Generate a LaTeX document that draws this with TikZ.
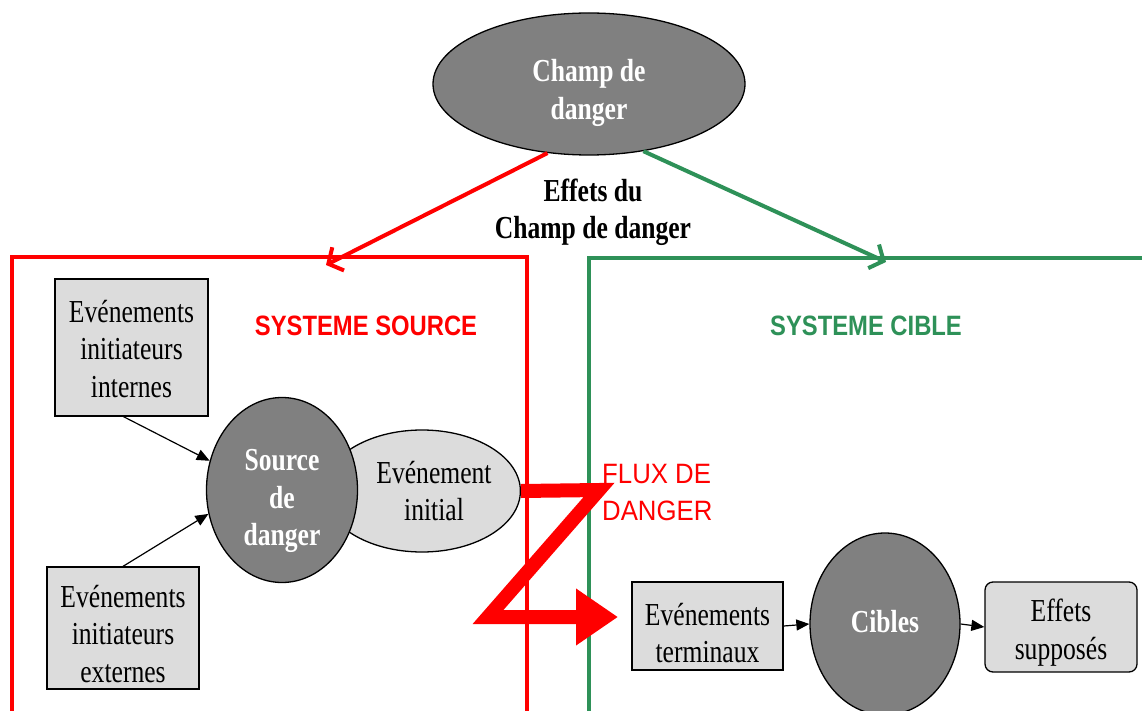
\documentclass[tikz,border=0pt]{standalone}
\usepackage{fontspec}
\setmainfont{Liberation Serif}[FakeStretch=0.8]
\setsansfont{Liberation Sans}[FakeStretch=0.82]
\newfontfamily\titlefont{Liberation Sans}[FakeStretch=0.85]
\newfontfamily\fluxfont{Liberation Sans}[FakeStretch=0.92]
\usetikzlibrary{shapes.geometric,arrows.meta}
\definecolor{srcred}{HTML}{FF0000}
\definecolor{tgtgreen}{HTML}{2E9158}
\definecolor{lightfill}{HTML}{DCDCDC}
\definecolor{darkfill}{HTML}{808080}
\newcommand{\topstrut}[1]{\rule{0pt}{#1}}
\newcommand{\botstrut}[1]{\rule[-#1]{0pt}{0pt}}
\tikzset{
  bigtxt/.style={font=\fontsize{32}{37.5}\selectfont},
  lbox/.style={rectangle, draw=black, line width=1.3pt, fill=lightfill, inner sep=0pt, align=center, bigtxt},
  lell/.style={ellipse, draw=black, line width=1.3pt, fill=lightfill, inner sep=0pt, align=center, bigtxt},
  dark/.style={ellipse, draw=black, line width=1.3pt, fill=darkfill, text=white, inner sep=0pt, align=center, font=\bfseries\fontsize{32}{37.5}\selectfont},
  systitle/.style={inner sep=0pt, font=\titlefont\bfseries\fontsize{28}{34}\selectfont},
  sysbox/.style={line width=4pt},
  effarrow/.style={line width=4pt, -{Straight Barb[length=11pt,width=26pt]}},
  smallarrow/.style={line width=1.2pt, black, -{Triangle[length=13pt,width=11pt]}},
  flux/.style={srcred, line width=14pt, line join=miter, -{Triangle[length=42pt,width=54pt]}}
}
\begin{document}
\begin{tikzpicture}[x=1pt,y=-1pt]
\useasboundingbox[fill=white] (0,0) rectangle (1142,711);

% system frames
\draw[sysbox, srcred] (12,716) -- (12,257) -- (527,257) -- (527,716);
\draw[sysbox, tgtgreen] (589,716) -- (589,258) -- (1150,258);

% top ellipse
\node[dark, minimum width=312pt, minimum height=142pt] (champ) at (589,84) {\topstrut{40pt}Champ de\\danger};
\node[inner sep=0pt, align=center, font=\bfseries\fontsize{32}{37}\selectfont] (effets) at (593,212) {Effets du\\Champ de danger};

\coordinate (redtip) at (326,265);
\coordinate (greentip) at (886,262);
\draw[effarrow, srcred] (champ.239) -- (redtip);
\draw[effarrow, tgtgreen] (champ.309) -- (greentip);

% titles
\node[systitle, text=srcred] (srctitle) at (366,326) {SYSTEME SOURCE};
\node[systitle, text=tgtgreen] (tgttitle) at (866,326) {SYSTEME CIBLE};

% source side
\node[lbox, minimum width=153pt, minimum height=137pt] (int) at (131.5,347.5) {\topstrut{25pt}Evénements\\initiateurs\\internes};
\node[lbox, minimum width=152pt, minimum height=122pt] (ext) at (123,628) {\topstrut{34pt}Evénements\\initiateurs\\externes};
\node[lell, minimum width=176pt, minimum height=122pt] (init) at (422,491) {\hspace*{24pt}Evénement\\\hspace*{24pt}initial};
\node[dark, minimum width=151pt, minimum height=185pt] (src) at (282,490) {\topstrut{44pt}Source\\de\\danger};

\draw[smallarrow] ([xshift=-8pt]int.south) -- (src.158);
\draw[smallarrow] (ext.north) -- (src.198);

% flux
\node[anchor=west, inner sep=0pt, align=left, text=srcred, font=\fluxfont\fontsize{28}{37}\selectfont] (fluxlbl) at (602,493) {FLUX DE\\DANGER};
\coordinate (zc1) at (599,490);
\coordinate (zc2) at (488,617);
\coordinate (fluxtip) at (618,617);
\draw[flux] (init.east) -- (zc1) -- (zc2) -- (fluxtip);

% target side
\node[lbox, minimum width=151pt, minimum height=88pt] (term) at (707.5,626) {\topstrut{36pt}Evénements\\terminaux};
\node[dark, minimum width=150pt, minimum height=182pt] (cib) at (885,624) {Cibles\botstrut{6pt}};
\node[lbox, rounded corners=8pt, minimum width=152pt, minimum height=90pt] (eff) at (1061,627) {\topstrut{34pt}Effets\\supposés};

\draw[smallarrow] (term.east) -- (cib.west);
\draw[smallarrow] (cib.east) -- (eff.west);
\end{tikzpicture}
\end{document}
